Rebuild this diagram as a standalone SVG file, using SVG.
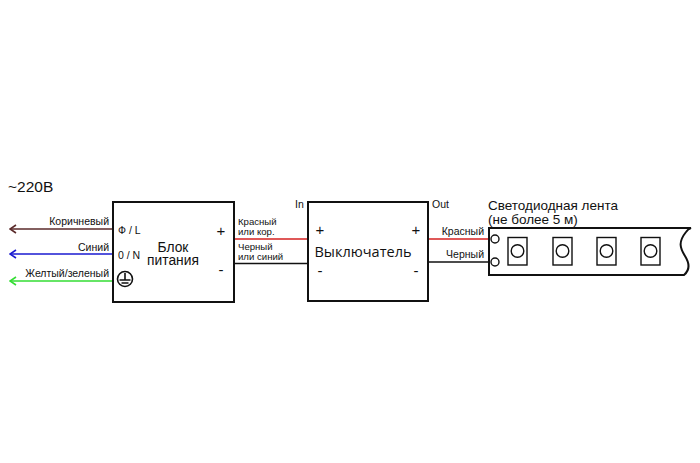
<svg xmlns="http://www.w3.org/2000/svg" width="700" height="463" viewBox="0 0 700 463">
<style>
.t{font-family:"Liberation Sans",Arial,sans-serif;fill:#111}
.s{font-size:10.5px}
.m{font-size:9.6px}
.box{fill:#fff;stroke:#111;stroke-width:2}
.w{fill:none;stroke-width:1.6}
.pm{font-family:"Liberation Sans",Arial,sans-serif;font-size:15px;fill:#111;text-anchor:middle}
</style>
<defs>
<marker id="aBr" markerWidth="8" markerHeight="10" refX="7" refY="5" orient="auto" markerUnits="userSpaceOnUse"><path d="M1,1 L7,5 L1,9" fill="none" stroke="#5a2a2a" stroke-width="1.6"/></marker>
<marker id="aBl" markerWidth="8" markerHeight="10" refX="7" refY="5" orient="auto" markerUnits="userSpaceOnUse"><path d="M1,1 L7,5 L1,9" fill="none" stroke="#1a1ad0" stroke-width="1.6"/></marker>
<marker id="aGr" markerWidth="8" markerHeight="10" refX="7" refY="5" orient="auto" markerUnits="userSpaceOnUse"><path d="M1,1 L7,5 L1,9" fill="none" stroke="#33dd33" stroke-width="1.6"/></marker>
</defs>
<rect width="700" height="463" fill="#fff"/>
<text class="t" x="8" y="192" font-size="15.5">~220В</text>
<g id="connectors">
<line class="w" x1="113" y1="229" x2="10" y2="229" stroke="#5a2a2a" marker-end="url(#aBr)"/>
<line class="w" x1="113" y1="254" x2="10" y2="254" stroke="#1a1ad0" marker-end="url(#aBl)"/>
<line class="w" x1="113" y1="281" x2="10" y2="281" stroke="#33dd33" marker-end="url(#aGr)"/>
<line class="w" x1="234" y1="239" x2="308" y2="239" stroke="#d42020"/>
<line class="w" x1="234" y1="263.5" x2="308" y2="263.5" stroke="#111"/>
<line class="w" x1="428" y1="239" x2="495" y2="239" stroke="#d42020"/>
<line class="w" x1="428" y1="262" x2="495" y2="262" stroke="#111"/>
<text class="t s" x="109" y="225" text-anchor="end">Коричневый</text>
<text class="t s" x="109" y="251" text-anchor="end">Синий</text>
<text class="t s" x="109" y="277" text-anchor="end">Желтый/зеленый</text>
<text class="t m" x="238" y="224.5">Красный</text>
<text class="t m" x="238" y="235">или кор.</text>
<text class="t m" x="238" y="249.5">Черный</text>
<text class="t m" x="238" y="260">или синий</text>
<text class="t s" x="484" y="235" text-anchor="end">Красный</text>
<text class="t s" x="484" y="258" text-anchor="end">Черный</text>
</g>
<g id="psu">
<rect class="box" x="113" y="202" width="121" height="100"/>
<text class="t s" x="118" y="234">Ф / L</text>
<text class="t s" x="118" y="259">0 / N</text>
<circle cx="125" cy="279" r="7.5" fill="none" stroke="#111" stroke-width="1.6"/>
<path d="M125,273 V280 M119.5,280 H130.5 M121.5,283 H128.5" stroke="#111" stroke-width="1.6" fill="none"/>
<text class="t" x="173" y="251.5" font-size="13.8" text-anchor="middle">Блок</text>
<text class="t" x="173" y="265" font-size="13.8" text-anchor="middle">питания</text>
<text class="pm" x="221" y="236">+</text>
<text class="pm" x="221" y="275">-</text>
</g>
<g id="switch">
<rect class="box" x="308" y="202" width="120" height="99"/>
<text class="t s" x="295" y="208">In</text>
<text class="t s" x="432" y="208">Out</text>
<text class="pm" x="320" y="235">+</text>
<text class="pm" x="416" y="235">+</text>
<text class="pm" x="320" y="276">-</text>
<text class="pm" x="416" y="276">-</text>
<text x="363" y="257" font-family="'Open Sans',sans-serif" font-size="14.5" fill="#111" text-anchor="middle">Выключатель</text>
</g>
<g id="ledstrip">
<text class="t" x="488" y="210" font-size="13.5">Светодиодная лента</text>
<text class="t" x="488" y="224" font-size="13.5">(не более 5 м)</text>
<path d="M489,228 H691 Q688,229 686,232 C678,242 680,248 685,256 C690,264 690,270 684,275 H489 Z" fill="#fff" stroke="#111" stroke-width="2"/>
<circle cx="495" cy="239" r="4" fill="#fff" stroke="#111" stroke-width="1.4"/>
<circle cx="495" cy="262" r="4" fill="#fff" stroke="#111" stroke-width="1.4"/>
<rect x="508" y="237.5" width="19" height="27.5" fill="#fff" stroke="#111" stroke-width="1.4"/>
<circle cx="517.5" cy="251" r="6.3" fill="none" stroke="#111" stroke-width="1.4"/>
<rect x="553" y="237.5" width="19" height="27.5" fill="#fff" stroke="#111" stroke-width="1.4"/>
<circle cx="562.5" cy="251" r="6.3" fill="none" stroke="#111" stroke-width="1.4"/>
<rect x="597" y="237.5" width="19" height="27.5" fill="#fff" stroke="#111" stroke-width="1.4"/>
<circle cx="606.5" cy="251" r="6.3" fill="none" stroke="#111" stroke-width="1.4"/>
<rect x="641" y="237.5" width="19" height="27.5" fill="#fff" stroke="#111" stroke-width="1.4"/>
<circle cx="650.5" cy="251" r="6.3" fill="none" stroke="#111" stroke-width="1.4"/>
</g>
</svg>
